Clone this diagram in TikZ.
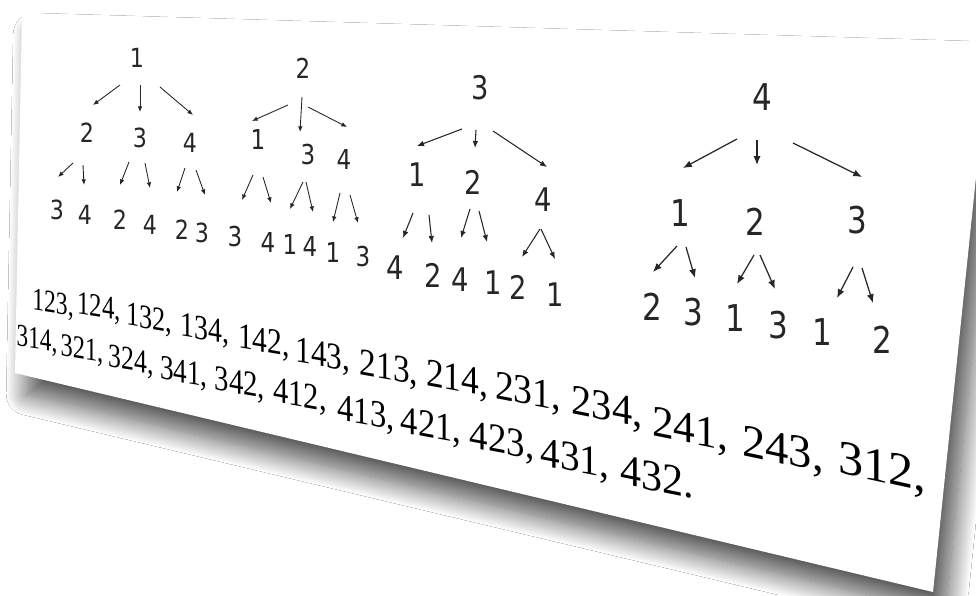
\documentclass[tikz,border=0pt]{standalone}
\usepackage{fontspec}
\setmainfont{Liberation Serif}
\newfontfamily\treefont{DejaVu Sans}
\usetikzlibrary{arrows.meta,shadows.blur}

\tikzset{
  dig/.style={inner sep=0pt, text=black!85, transform shape, xscale=0.84},
  ta/.style={dig, font=\treefont\fontsize{15}{18}\selectfont},
  tb/.style={dig, font=\treefont\fontsize{15.6}{18}\selectfont},
  tc/.style={dig, font=\treefont\fontsize{18.5}{22}\selectfont},
  td/.style={dig, font=\treefont\fontsize{21}{25}\selectfont},
  arA/.style={draw=black!85, line width=0.5pt, -{Latex[length=3.2pt,width=2.6pt]}},
  arC/.style={draw=black!85, line width=0.6pt, -{Latex[length=4pt,width=3.2pt]}},
  arD/.style={draw=black!85, line width=0.7pt, -{Latex[length=5pt,width=4pt]}},
  perm/.style={inner sep=0pt, transform shape, font=\fontsize{20}{24}\selectfont},
}

\begin{document}
\begin{tikzpicture}[x=0.02cm, y=-0.02cm]
\useasboundingbox (0,0) rectangle (976,595);
\clip (0,0) rectangle (976,595);
\fill[white] (0,0) rectangle (976,595);

% the sheet
\fill[white, blur shadow={shadow xshift=7pt, shadow yshift=-12pt, shadow blur radius=12pt,
    shadow blur steps=25, shadow opacity=70}]
  (22,13) -- (990,42) -- (933,592) -- (15,373) -- cycle;

% tree 1
\node[ta] (a) at (137,58) {1};
\node[ta] (a2) at (87,133) {2};
\node[ta] (a3) at (140,138) {3};
\node[ta] (a4) at (190,143) {4};
\node[ta] (a23) at (57,210) {3};
\node[ta] (a24) at (85,215) {4};
\node[ta] (a32) at (120,220) {2};
\node[ta] (a34) at (150,225) {4};
\node[ta] (a42) at (182,230) {2};
\node[ta] (a43) at (202,233) {3};
\foreach \p/\c/\sx/\sy/\ex/\ey in {a/a2/-17/27/6/-28, a/a3/3/27/0/-26, a/a4/23/29/3/-28,
    a2/a23/-14/30/1/-33, a2/a24/-4/32/-1/-30, a3/a32/-11/24/0/-35, a3/a34/5/25/0/-37,
    a4/a42/-5/25/-5/-38, a4/a43/6/27/3/-38}
  \draw[arA] ([shift={(\sx,\sy)}]\p.center) -- ([shift={(\ex,\ey)}]\c.center);

% tree 2
\node[tb] (b) at (303,68) {2};
\node[tb] (b1) at (258,140) {1};
\node[tb] (b3) at (308,155) {3};
\node[tb] (b4) at (344,160) {4};
\node[tb] (b13) at (235,237) {3};
\node[tb] (b14) at (268,243) {4};
\node[tb] (b31) at (290,245) {1};
\node[tb] (b34) at (310,247) {4};
\node[tb] (b41) at (333,253) {1};
\node[tb] (b43) at (363,257) {3};
\foreach \p/\c/\sx/\sy/\ex/\ey in {b/b1/-15/37/-6/-19, b/b3/-1/29/-8/-23, b/b4/5/39/3/-33,
    b1/b13/-5/35/7/-37, b1/b14/5/37/3/-40, b3/b31/-5/27/0/-36, b3/b34/-2/27/3/-35,
    b4/b41/-4/33/0/-31, b4/b43/6/35/-5/-34}
  \draw[arA] ([shift={(\sx,\sy)}]\p.center) -- ([shift={(\ex,\ey)}]\c.center);

% tree 3
\node[tc] (c) at (480,88) {3};
\node[tc] (c1) at (417,175) {1};
\node[tc] (c2) at (473,182) {2};
\node[tc] (c4) at (543,200) {4};
\node[tc] (c14) at (395,268) {4};
\node[tc] (c12) at (433,275) {2};
\node[tc] (c24) at (460,280) {4};
\node[tc] (c21) at (493,283) {1};
\node[tc] (c42) at (518,287) {2};
\node[tc] (c41) at (555,295) {1};
\foreach \p/\c/\sx/\sy/\ex/\ey in {c/c1/-18/41/0/-29, c/c2/-4/42/2/-34, c/c4/13/43/4/-33,
    c1/c14/-4/38/8/-30, c1/c12/12/40/-1/-32, c2/c24/-3/27/1/-42, c2/c21/6/29/-6/-41,
    c4/c42/-3/29/4/-30, c4/c41/-2/29/0/-36}
  \draw[arC] ([shift={(\sx,\sy)}]\p.center) -- ([shift={(\ex,\ey)}]\c.center);

% tree 4
\node[td] (d) at (762,97) {4};
\node[td] (d1) at (680,213) {1};
\node[td] (d2) at (755,222) {2};
\node[td] (d3) at (857,220) {3};
\node[td] (d12) at (652,307) {2};
\node[td] (d13) at (693,312) {3};
\node[td] (d21) at (735,318) {1};
\node[td] (d23) at (778,325) {3};
\node[td] (d31) at (822,332) {1};
\node[td] (d32) at (882,340) {2};
\foreach \p/\c/\sx/\sy/\ex/\ey in {d/d1/-25/42/3/-45, d/d2/-5/43/2/-57, d/d3/31/46/5/-43,
    d1/d12/-3/33/1/-35, d1/d13/6/34/2/-34, d2/d21/-1/33/2/-34, d2/d23/5/33/-3/-36,
    d3/d31/-4/47/15/-34, d3/d32/5/48/-9/-37}
  \draw[arD] ([shift={(\sx,\sy)}]\p.center) -- ([shift={(\ex,\ey)}]\c.center);

% list of permutations
\foreach \px/\py/\txt [count=\i] in {53/305/{123,},99/309/{124,},149/320/{132,},205/331/{134,},
    264/343/{142,},323/357/{143,},389/370/{213,},457/381/{214,},528/394/{231,},607/410/{234,},
    690/432/{241,},783/452/{243,},882/470/{312,}}{
  \pgfmathsetmacro\sc{0.88+0.5*\px/900}
  \pgfmathsetmacro\xs{0.72+0.33*\px/900}
  \pgfmathsetmacro\sl{-(0.15+0.07*\px/900)}
  \node[perm, yslant=\sl, scale=\sc, xscale=\xs] (p\i) at (\px,\py) {\txt};
}
\foreach \px/\py/\txt [count=\i] in {37/341/{314,},82/351/{321,},131/362/{324,},184/374/{341,},
    240/385/{342,},300/397/{412,},366/415/{413,},431/428/{421,},502/443/{423,},575/461/{431,},
    657/477/{432.}}{
  \pgfmathsetmacro\sc{0.88+0.5*\px/900}
  \pgfmathsetmacro\xs{0.72+0.33*\px/900}
  \pgfmathsetmacro\sl{-(0.15+0.07*\px/900)}
  \node[perm, yslant=\sl, scale=\sc, xscale=\xs] (q\i) at (\px,\py) {\txt};
}
\end{tikzpicture}
\end{document}
